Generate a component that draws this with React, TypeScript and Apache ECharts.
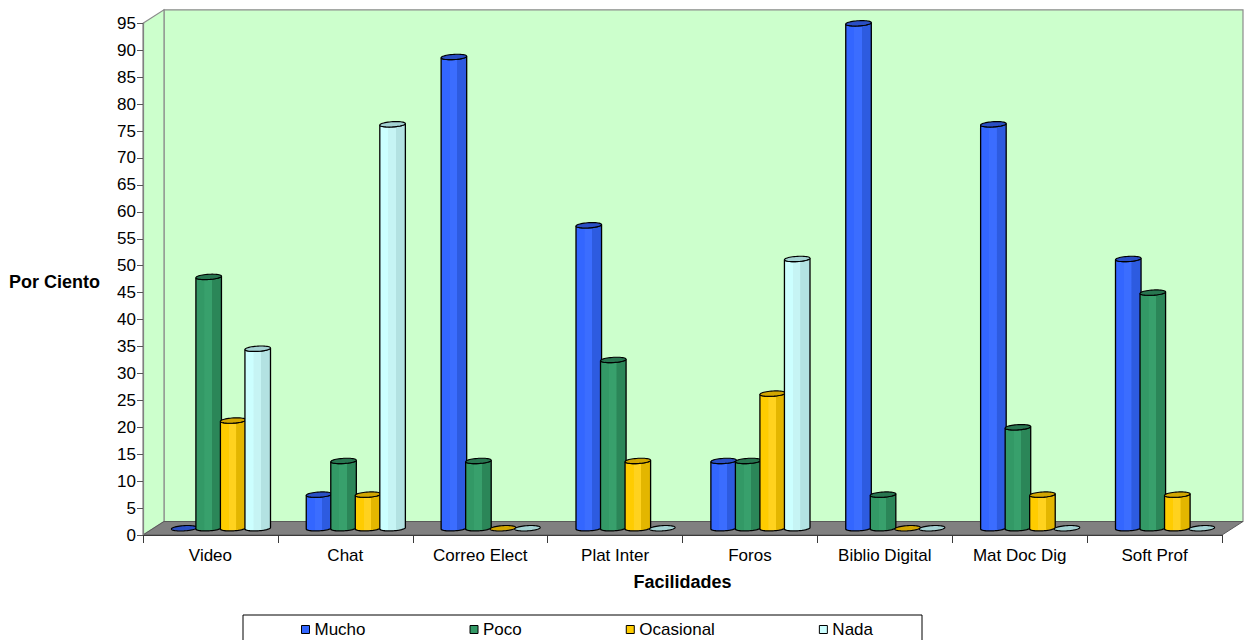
import React, { useEffect, useRef } from "react";
import * as echarts from "echarts";

// Survey results: share of respondents (%) per facility and usage level
const categories = [
  "Video",
  "Chat",
  "Correo Elect",
  "Plat Inter",
  "Foros",
  "Biblio Digital",
  "Mat Doc Dig",
  "Soft Prof",
];
const mucho = [0, 6.25, 87.5, 56.25, 12.5, 93.75, 75, 50];
const poco = [46.67, 12.5, 12.5, 31.25, 12.5, 6.25, 18.75, 43.75];
const ocasional = [20, 6.25, 0, 12.5, 25, 0, 6.25, 6.25];
const nada = [33.33, 75, 0, 0, 50, 0, 0, 0];
const seriesNames = ["Mucho", "Poco", "Ocasional", "Nada"];
const seriesValues = [mucho, poco, ocasional, nada];
const yMin = 0;
const yMax = 95;
const yStep = 5;

// Shading for each column: face colour, lit facet, shaded facet, cap
const palette = [
  { base: "#3366FF", light: "#3B6DFF", dark: "#2D5BE0", cap: "#2A4FC4" },
  { base: "#339966", light: "#38A06C", dark: "#2B8658", cap: "#287650" },
  { base: "#FFCC00", light: "#FFD21E", dark: "#E3B600", cap: "#D2A600" },
  { base: "#CCFFFF", light: "#C6F4F4", dark: "#B3E2E2", cap: "#A3D2D2" },
];

// Oblique projection of the depth axis (full depth of the floor)
const DEPTH_X = 21;
const DEPTH_Y = -13.5;
const FONT = '"Liberation Sans", Arial, sans-serif';

function wallsRenderer(params: any) {
  const cs = params.coordSys;
  const x0 = cs.x;
  const y0 = cs.y;
  const x1 = cs.x + cs.width;
  const y1 = cs.y + cs.height;
  const edge = { stroke: "#8C8C8C", lineWidth: 1.2 };
  return {
    type: "group",
    children: [
      {
        type: "polygon",
        shape: {
          points: [
            [x0 + DEPTH_X, y0 + DEPTH_Y],
            [x1 + DEPTH_X, y0 + DEPTH_Y],
            [x1 + DEPTH_X, y1 + DEPTH_Y],
            [x0 + DEPTH_X, y1 + DEPTH_Y],
          ],
        },
        style: { fill: "#CCFFCC", ...edge },
      },
      {
        type: "polygon",
        shape: {
          points: [
            [x0, y0],
            [x0 + DEPTH_X, y0 + DEPTH_Y],
            [x0 + DEPTH_X, y1 + DEPTH_Y],
            [x0, y1],
          ],
        },
        style: { fill: "#CCFFCC", ...edge },
      },
      {
        type: "polygon",
        shape: {
          points: [
            [x0, y1],
            [x0 + DEPTH_X, y1 + DEPTH_Y],
            [x1 + DEPTH_X, y1 + DEPTH_Y],
            [x1, y1],
          ],
        },
        style: { fill: "#808080", stroke: "#5A5A5A", lineWidth: 1 },
      },
    ],
  };
}

function makeColumnRenderer(si: number) {
  const col = palette[si];
  return (params: any, api: any) => {
    const ci = api.value(0);
    const v = api.value(1);
    const pBase = api.coord([ci, 0]);
    const pTop = api.coord([ci, v]);
    const band = api.size([1, 0])[0];
    // four columns per category, gap width 150%
    const w = band / 5.5;
    const cx = pBase[0] + (si - 1.5) * w + DEPTH_X / 2;
    const yb = pBase[1] + DEPTH_Y / 2;
    const yt = pTop[1] + DEPTH_Y / 2;
    const a = w / 2;
    const ex = 3.6;
    const ey = -2.7;
    const pt = (cy: number, t: number) => [
      cx + a * Math.cos(t) + ex * Math.sin(t),
      cy + ey * Math.sin(t),
    ];
    const tR = Math.atan2(ex, a);
    const tL = tR - Math.PI;
    const N = 24;

    const cap: number[][] = [];
    for (let k = 0; k < 48; k++) cap.push(pt(yt, (k / 48) * Math.PI * 2));

    const children: any[] = [];
    if (v > 0) {
      const body: number[][] = [];
      for (let k = 0; k <= N; k++) body.push(pt(yt, tL + ((tR - tL) * k) / N));
      for (let k = 0; k <= N; k++) body.push(pt(yb, tR - ((tR - tL) * k) / N));
      children.push({
        type: "polygon",
        shape: { points: body },
        style: {
          fill: new echarts.graphic.LinearGradient(0, 0, 1, 0, [
            { offset: 0, color: col.base },
            { offset: 0.33, color: col.base },
            { offset: 0.34, color: col.light },
            { offset: 0.62, color: col.light },
            { offset: 0.63, color: col.dark },
            { offset: 1, color: col.dark },
          ]),
          stroke: "#000",
          lineWidth: 1.3,
        },
      });
    }
    children.push({
      type: "polygon",
      shape: { points: cap },
      style: { fill: col.cap, stroke: "#000", lineWidth: 1.1 },
    });
    return { type: "group", children };
  };
}

export default function App() {
  const ref = useRef<HTMLDivElement>(null);

  useEffect(() => {
    if (!ref.current) return;
    const chart = echarts.init(ref.current, undefined, { renderer: "svg" });

    const columnSeries = seriesNames.map((name, si) => ({
      name,
      type: "custom",
      z: 3,
      itemStyle: { color: palette[si].base },
      renderItem: makeColumnRenderer(si),
      data: categories.map((_, i) => [i, seriesValues[si][i]]),
    }));

    chart.setOption({
      animation: false,
      backgroundColor: "#FFFFFF",
      textStyle: { fontFamily: FONT },
      grid: { left: 143, top: 23.3, width: 1079, height: 511.7 },
      xAxis: {
        type: "category",
        data: categories,
        z: 4,
        name: "Facilidades",
        nameLocation: "middle",
        nameGap: 38,
        nameTextStyle: { fontSize: 18, fontWeight: "bold", color: "#000", fontFamily: FONT },
        axisLine: { show: true, lineStyle: { color: "#3A3A3A", width: 1.2 } },
        axisTick: { show: true, inside: false, length: 8, interval: 0, alignWithLabel: false, lineStyle: { color: "#3A3A3A" } },
        axisLabel: { interval: 0, margin: 12, fontSize: 17, color: "#000", fontFamily: FONT },
        splitLine: { show: false },
      },
      yAxis: {
        type: "value",
        min: yMin,
        max: yMax,
        interval: yStep,
        z: 4,
        axisLine: { show: true, lineStyle: { color: "#808080", width: 1.2 } },
        axisTick: { show: true, inside: false, length: 6, lineStyle: { color: "#555" } },
        axisLabel: { margin: 7, fontSize: 17, color: "#000", fontFamily: FONT },
        splitLine: { show: false },
      },
      legend: {
        data: seriesNames,
        left: 243,
        top: 615,
        orient: "horizontal",
        padding: [6, 49, 12, 58],
        itemGap: 104,
        itemWidth: 8,
        itemHeight: 8,
        icon: "rect",
        borderColor: "#000",
        borderWidth: 1,
        itemStyle: { borderColor: "#000", borderWidth: 1 },
        textStyle: { fontSize: 17, color: "#000", fontFamily: FONT, padding: [0, 0, 0, 0] },
      },
      graphic: [
        {
          type: "text",
          x: 100,
          y: 282,
          style: {
            text: "Por Ciento",
            align: "right",
            verticalAlign: "middle",
            font: `bold 18px ${FONT}`,
            fill: "#000",
          },
        },
      ],
      series: [
        {
          name: "walls",
          type: "custom",
          z: 1,
          silent: true,
          renderItem: wallsRenderer,
          data: [[0, 0]],
        },
        ...columnSeries,
      ],
    });

    return () => chart.dispose();
  }, []);

  return (
    <div
      ref={ref}
      style={{ position: "absolute", left: 0, top: 0, width: 1244, height: 640 }}
    />
  );
}
